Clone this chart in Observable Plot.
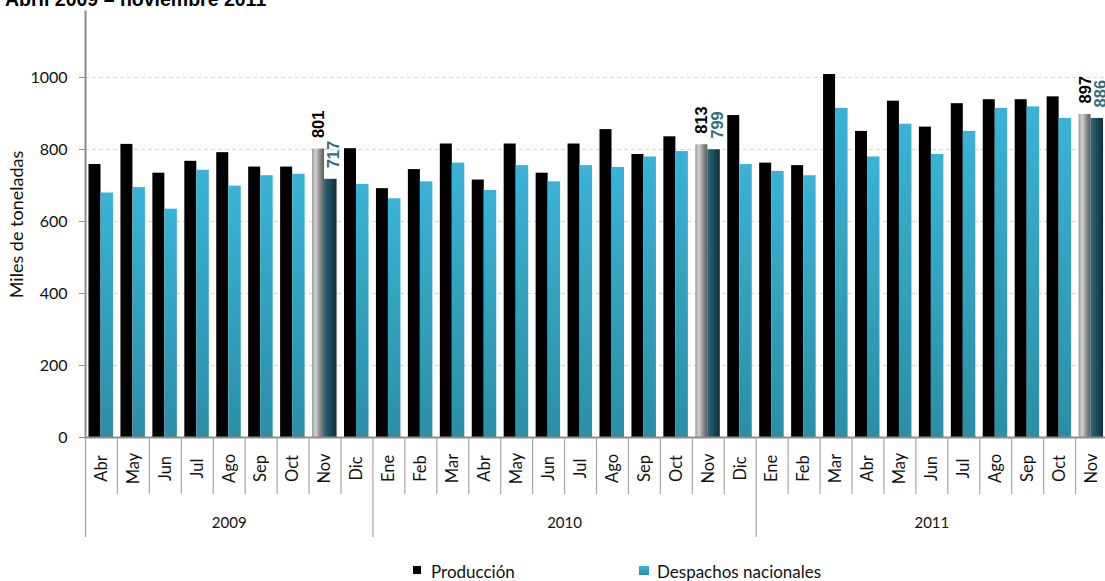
<!DOCTYPE html>
<html>
<head>
<meta charset="utf-8">
<script src="https://cdn.jsdelivr.net/npm/d3@7"></script>
<script src="https://cdn.jsdelivr.net/npm/@observablehq/plot@0.6"></script>
<style>
  body { margin: 0; background: #fff; }
  #wrap { position: relative; width: 1105px; height: 581px; overflow: hidden; background: #fff; font-family: Lato, "Open Sans", sans-serif; }
  #title { position: absolute; left: 5px; top: -11px; font: bold 19.5px "Liberation Sans", Arial, sans-serif; line-height: 20px; white-space: nowrap; color: #000; }
  #chart { position: absolute; left: 0; top: 0; }
  .sw { position: absolute; }
  .lt { position: absolute; font-size: 17px; line-height: 18px; color: #111; white-space: nowrap; }
</style>
</head>
<body>
<div id="wrap">
  <div id="chart"></div>
  <div id="title">Abril 2009 – noviembre 2011</div>
  <div class="sw" style="left:413px;top:566px;width:8px;height:8px;background:#000;"></div>
  <div class="lt" style="left:431px;top:563px;">Producción</div>
  <div class="sw" style="left:639px;top:566px;width:10px;height:9px;background:linear-gradient(#3ab4d8,#2b8fa8);"></div>
  <div class="lt" style="left:657px;top:563px;">Despachos nacionales</div>
</div>
<script>
// ---- data ----
const months = ["Abr","May","Jun","Jul","Ago","Sep","Oct","Nov","Dic",
                "Ene","Feb","Mar","Abr","May","Jun","Jul","Ago","Sep","Oct","Nov","Dic",
                "Ene","Feb","Mar","Abr","May","Jun","Jul","Ago","Sep","Oct","Nov"];
const years = [2009,2009,2009,2009,2009,2009,2009,2009,2009,
               2010,2010,2010,2010,2010,2010,2010,2010,2010,2010,2010,2010,
               2011,2011,2011,2011,2011,2011,2011,2011,2011,2011,2011];
const produccion = [758,814,734,767,791,751,751,801,802,
                    691,744,815,715,815,734,815,855,786,835,813,894,
                    762,755,1008,850,934,862,927,938,938,946,897];
const despachos  = [679,694,634,742,698,727,731,717,703,
                    663,710,762,686,755,710,755,750,779,794,799,758,
                    739,727,914,779,870,786,850,914,918,886,886];
const yTicks = [0,200,400,600,800,1000];
const yLabel = "Miles de toneladas";
const highlightMonth = "Nov";

// ---- table ----
const rows = months.map((m, i) => ({key: i, month: m, year: years[i], prod: produccion[i], desp: despachos[i], hl: m === highlightMonth}));
const keys = rows.map(d => d.key);

const xRange = [85, 1107];
const bw = (xRange[1] - xRange[0]) / keys.length;

// year groups
const yearGroups = Array.from(d3.group(rows, d => d.year), ([year, rs]) => {
  const first = rs[0].key, last = rs[rs.length - 1].key;
  const mid = (first + last) / 2;
  return {year, first, last, midKey: Math.floor(mid), frac: mid - Math.floor(mid)};
});
const yearStarts = new Set(yearGroups.map(g => g.first));
const monthSeps = keys.filter(k => !yearStarts.has(k));

const labelFont = "'Liberation Sans', Arial, sans-serif";

const plot = Plot.plot({
  width: 1105,
  height: 550,
  marginLeft: 85,
  marginRight: 0,
  marginTop: 11,
  marginBottom: 113,
  style: {fontFamily: "Lato, 'Open Sans', sans-serif", fontSize: "15.5px", color: "#111", background: "white", overflow: "visible"},
  x: {type: "band", domain: keys, range: xRange, padding: 0, round: false, axis: null},
  y: {domain: [0, 1183], axis: null},
  marks: [
    Plot.ruleY(yTicks.filter(v => v > 0), {y: d => d, stroke: "#d4d4d4", strokeDasharray: "4,3", strokeWidth: 1}),
    // Producción
    Plot.barY(rows.filter(d => !d.hl), {x: "key", y: "prod", fill: "#000", insetLeft: 3.5, insetRight: bw - 15.5}),
    Plot.barY(rows.filter(d => d.hl), {x: "key", y: "prod", fill: "url(#gGrey)", insetLeft: 3.5, insetRight: bw - 15.5}),
    // Despachos
    Plot.barY(rows.filter(d => !d.hl), {x: "key", y: "desp", fill: "url(#gBlue)", insetLeft: 15.5, insetRight: bw - 28}),
    Plot.barY(rows.filter(d => d.hl), {x: "key", y: "desp", fill: "url(#gTeal)", insetLeft: 15.5, insetRight: bw - 28}),
    // value labels
    Plot.text(rows.filter(d => d.hl), {x: "key", y: "prod", text: d => String(d.prod), rotate: -90, textAnchor: "start", lineAnchor: "middle", dx: -6.2, dy: -11, fill: "#000", fontWeight: "bold", fontSize: 16.5, fontFamily: labelFont}),
    Plot.text(rows.filter(d => d.hl), {x: "key", y: "desp", text: d => String(d.desp), rotate: -90, textAnchor: "start", lineAnchor: "middle", dx: 9, dy: -11, fill: "#2f6f80", fontWeight: "bold", fontSize: 16.5, fontFamily: labelFont}),
    // baseline
    Plot.ruleY([0], {stroke: "#8c8c8c", strokeWidth: 2}),
    // y axis
    Plot.frame({anchor: "left", stroke: "#8c8c8c", strokeWidth: 2}),
    Plot.axisY(yTicks, {tickSize: 6, tickPadding: 12, tickFormat: d => String(d), stroke: "#8c8c8c", fill: "#111", label: null, fontSize: 16}),
    Plot.text([yLabel], {frameAnchor: "left", text: d => d, rotate: -90, dx: -68, textAnchor: "middle", lineAnchor: "middle", fontSize: 18, fill: "#111"}),
    // x category separators
    Plot.ruleX(monthSeps, {x: d => d, y1: () => 0, y2: () => 0, dx: -bw / 2, insetBottom: -57, stroke: "#a6a6a6", strokeWidth: 1.2}),
    Plot.ruleX(yearGroups, {x: "first", y1: () => 0, y2: () => 0, dx: -bw / 2, insetBottom: -100, stroke: "#a6a6a6", strokeWidth: 1.2}),
    // month labels
    Plot.text(rows, {x: "key", frameAnchor: "bottom", text: "month", rotate: -90, dy: 31, textAnchor: "middle", lineAnchor: "middle", fontSize: 16.5, fill: "#111"}),
    // year labels
    Plot.text(yearGroups, {x: "midKey", frameAnchor: "bottom", text: d => String(d.year), dy: 86, textAnchor: "middle", lineAnchor: "middle", fontSize: 15, fill: "#111"})
  ]
});

const svg = d3.select(plot);
const defs = svg.insert("defs", ":first-child");
const lg = (id, dir, stops) => {
  const g = defs.append("linearGradient").attr("id", id);
  if (dir === "v") g.attr("x1", 0).attr("y1", 0).attr("x2", 0).attr("y2", 1);
  else g.attr("x1", 0).attr("y1", 0).attr("x2", 1).attr("y2", 0);
  stops.forEach(([o, c]) => g.append("stop").attr("offset", o).attr("stop-color", c));
};
lg("gBlue", "v", [["0%", "#39b3d7"], ["100%", "#2b8ea7"]]);
lg("gGrey", "h", [["0%", "#9c9c9c"], ["30%", "#d2d2d2"], ["65%", "#8e8e8e"], ["100%", "#5c5c5c"]]);
lg("gTeal", "h", [["0%", "#2c6676"], ["40%", "#1f5160"], ["100%", "#0f2d37"]]);

document.getElementById("chart").appendChild(plot);

// shift year labels of even-length groups by half a band
const yearTextGroup = svg.selectAll("g[aria-label='text']").filter(function() {
  return d3.select(this).selectAll("text").nodes().some(n => /^\d{4}$/.test(n.textContent));
});
yearTextGroup.selectAll("text").each(function(_, j) {
  const g = yearGroups[j];
  if (g && g.frac) {
    const t = d3.select(this);
    const tr = t.attr("transform") || "";
    t.attr("transform", `translate(${g.frac * bw},0) ` + tr);
  }
});
</script>
</body>
</html>
